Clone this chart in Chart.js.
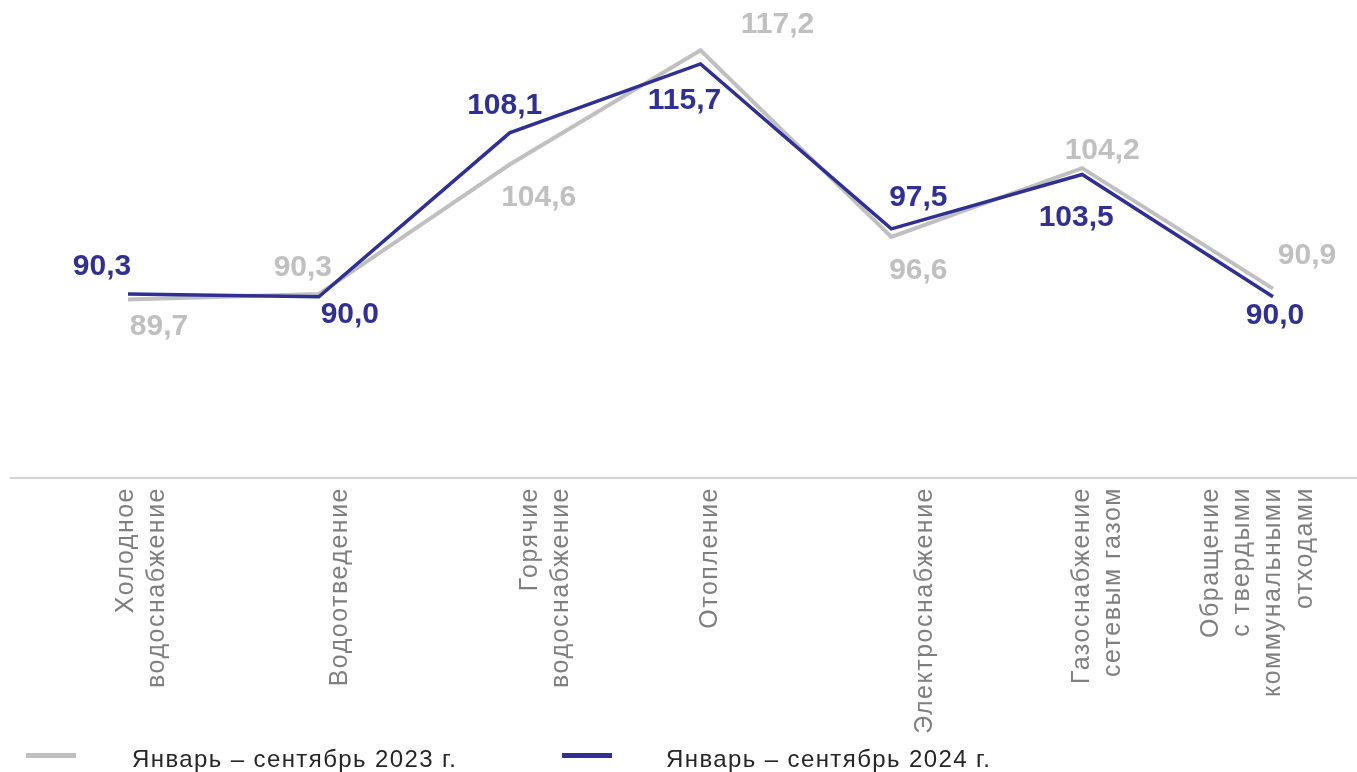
<!DOCTYPE html>
<html>
<head>
<meta charset="utf-8">
<script src="https://cdn.jsdelivr.net/npm/chart.js@4.4.1/dist/chart.umd.min.js"></script>
<style>
  html, body { margin: 0; padding: 0; background: #fff; }
  #wrap { position: relative; width: 1357px; height: 772px; }
  .leg { position: absolute; top: 744px; font: 24px "Liberation Sans", Arial, sans-serif; letter-spacing: 1.4px; color: #262626; line-height: 30px; }
  .sw { position: absolute; top: 753px; width: 50px; height: 5px; }
</style>
</head>
<body>
<div id="wrap">
  <canvas id="chart" width="1357" height="772"></canvas>
  <div class="sw" style="left:26px;background:#c0c0c0"></div>
  <div class="leg" style="left:132px">Январь – сентябрь 2023 г.</div>
  <div class="sw" style="left:562px;background:#303094"></div>
  <div class="leg" style="left:666px">Январь – сентябрь 2024 г.</div>
</div>
<script>
const categories = [
  ['Холодное', 'водоснабжение'],
  ['Водоотведение'],
  ['Горячие', 'водоснабжение'],
  ['Отопление'],
  ['Электроснабжение'],
  ['Газоснабжение', 'сетевым газом'],
  ['Обращение', 'с твердыми', 'коммунальными', 'отходами']
];
const values2023 = [89.7, 90.3, 104.6, 117.2, 96.6, 104.2, 90.9];
const values2024 = [90.3, 90.0, 108.1, 115.7, 97.5, 103.5, 90.0];

const gray = '#c0c0c0';
const blue = '#303094';

// where each value label sits relative to its point (px)
const offsets2023 = [[31, 27], [-16, -26], [29, 33], [77, -26], [27, 34], [20, -17], [34, -33]];
const offsets2024 = [[-26, -27], [31, 18], [-5, -27], [-16, 37], [27, -31], [-6, 43], [2, 19]];
// sideways nudge of each category label, like the original layout
const tickShift = [-2, 21, 20, 10, 34, 0, -62];

const fmt = v => v.toFixed(1).replace('.', ',');

const labelPlugin = {
  id: 'valueLabels',
  beforeDraw(chart) {
    chart.ctx.letterSpacing = '1.5px';
    const scale = chart.scales.x;
    if (!scale._shifted) {
      scale.getLabelItems().forEach((item, i) => {
        item.options.translation[0] += tickShift[i] || 0;
      });
      scale._shifted = true;
    }
  },
  beforeDatasetsDraw(chart) {
    const ctx = chart.ctx;
    const y = chart.chartArea.bottom;
    ctx.save();
    ctx.strokeStyle = '#d4d4d4';
    ctx.lineWidth = 2;
    ctx.beginPath();
    ctx.moveTo(10, y);
    ctx.lineTo(chart.width, y);
    ctx.stroke();
    ctx.restore();
  },
  afterDatasetsDraw(chart) {
    const ctx = chart.ctx;
    ctx.save();
    ctx.letterSpacing = '0px';
    ctx.font = 'bold 30px "Liberation Sans", Arial, sans-serif';
    ctx.textAlign = 'center';
    ctx.textBaseline = 'middle';
    chart.data.datasets.forEach((ds, i) => {
      const meta = chart.getDatasetMeta(i);
      const offs = ds.labelOffsets;
      meta.data.forEach((pt, j) => {
        ctx.fillStyle = ds.borderColor;
        ctx.fillText(fmt(ds.data[j]), pt.x + offs[j][0], pt.y + offs[j][1]);
      });
    });
    ctx.restore();
  }
};

new Chart(document.getElementById('chart'), {
  type: 'line',
  data: {
    labels: categories,
    datasets: [
      {
        label: 'Январь – сентябрь 2024 г.',
        data: values2024,
        borderColor: blue,
        borderWidth: 3.5,
        labelOffsets: offsets2024
      },
      {
        label: 'Январь – сентябрь 2023 г.',
        data: values2023,
        borderColor: gray,
        borderWidth: 4,
        labelOffsets: offsets2023
      }
    ]
  },
  options: {
    responsive: false,
    animation: false,
    events: [],
    elements: {
      point: { radius: 0 },
      line: { tension: 0, borderJoinStyle: 'miter', fill: false }
    },
    layout: { padding: { top: 25, left: 128, right: 84, bottom: 0 } },
    plugins: { legend: { display: false }, tooltip: { enabled: false } },
    scales: {
      x: {
        offset: false,
        grid: { display: false },
        border: { display: false },
        afterFit(scale) {
          scale.height = 294;
          scale.paddingLeft = 0;
          scale.paddingRight = 0;
        },
        ticks: {
          autoSkip: false,
          minRotation: 90,
          maxRotation: 90,
          padding: 1,
          color: '#7f7f7f',
          font: { family: '"Liberation Sans", Arial, sans-serif', size: 25, lineHeight: 1.25 }
        }
      },
      y: { display: false, min: 70, max: 120 }
    }
  },
  plugins: [labelPlugin]
});
</script>
</body>
</html>
